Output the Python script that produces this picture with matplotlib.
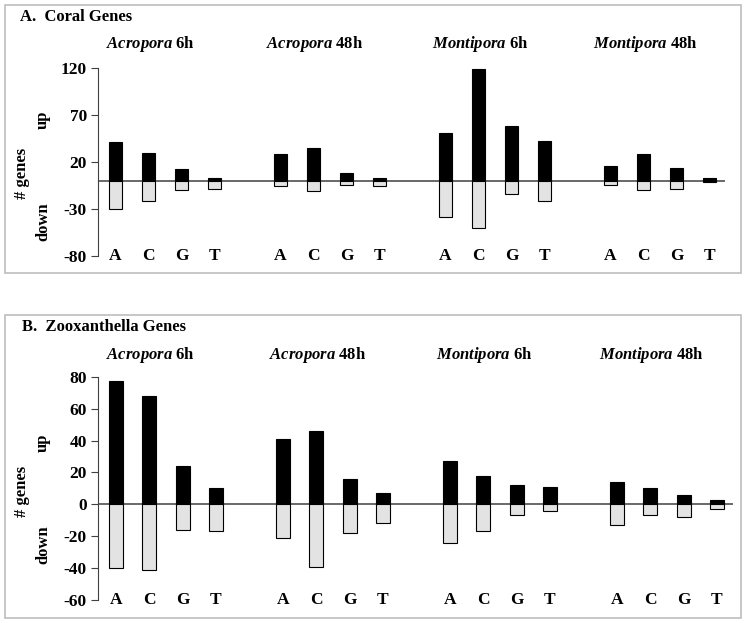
import matplotlib.pyplot as plt
from matplotlib.patches import Rectangle

groups = ['Acropora 6h', 'Acropora 48h', 'Montipora 6h', 'Montipora 48h']
bases = ['A', 'C', 'G', 'T']

# panel A - coral genes (up / down per base, per group)
coral_up = [[41, 30, 13, 3], [28, 35, 8, 3], [51, 119, 58, 42], [16, 28, 14, 3]]
coral_down = [[-30, -21, -10, -9], [-6, -11, -4, -6], [-38, -50, -14, -21], [-4, -10, -9, -1]]
coral_ticks = [120, 70, 20, -30, -80]

# panel B - zooxanthella genes
zoox_up = [[77, 68, 24, 10], [41, 46, 16, 7], [27, 18, 12, 11], [14, 10, 6, 3]]
zoox_down = [[-40, -41, -16, -17], [-21, -39, -18, -12], [-24, -17, -7, -4], [-13, -7, -8, -3]]
zoox_ticks = [80, 60, 40, 20, 0, -20, -40, -60]

plt.rcParams['font.family'] = 'Liberation Serif'
plt.rcParams['font.weight'] = 'bold'
plt.rcParams['axes.unicode_minus'] = False
plt.rcParams['mathtext.fontset'] = 'custom'
plt.rcParams['mathtext.it'] = 'Liberation Serif:italic:bold'
plt.rcParams['mathtext.rm'] = 'Liberation Serif:bold'

fig = plt.figure(figsize=(7.47, 6.23), dpi=100)

# panel frames
for y0, h in [(0.5623, 0.4297), (0.0085, 0.4859)]:
    fig.patches.append(Rectangle((0.0067, y0), 0.9853, h, transform=fig.transFigure,
                                 fill=False, edgecolor='#bdbdbd', lw=1.2))


def panel(ax, up, down, ticks, label_y):
    for g in range(len(groups)):
        xs = [g * 5 + i for i in range(len(bases))]
        ax.bar(xs, up[g], width=0.42, color='black', edgecolor='black', lw=0.8, zorder=3)
        ax.bar(xs, down[g], width=0.42, color='#e3e3e3', edgecolor='black', lw=0.8, zorder=3)
        for x, b in zip(xs, bases):
            ax.text(x, ticks[-1], b, ha='center', va='center', fontsize=12.5, clip_on=False)
        sp, tm = groups[g].split()
        ax.text(g * 5 + 1.05, label_y, r'$\mathit{%s}$ %s' % (sp, tm), ha='center',
                va='center', fontsize=12, clip_on=False)
    ax.axhline(0, color='#404040', lw=1.1, zorder=2)
    ax.set_xlim(-0.53, 18.47)
    ax.set_ylim(ticks[-1], ticks[0])
    ax.set_yticks(ticks)
    ax.set_xticks([])
    for s in ['top', 'right', 'bottom']:
        ax.spines[s].set_visible(False)
    ax.spines['left'].set_color('#404040')
    ax.tick_params(axis='y', labelsize=12.5, length=5, color='#404040', pad=3)
    ax.patch.set_alpha(0)


axA = fig.add_axes([98 / 747, 1 - 256 / 623, 627 / 747, 188 / 623])
panel(axA, coral_up, coral_down, coral_ticks, 145)
axB = fig.add_axes([98 / 747, 1 - 600 / 623, 634.7 / 747, 223.3 / 623])
panel(axB, zoox_up, zoox_down, zoox_ticks, 93.7)

# panel titles and y labels
fig.text(20 / 747, 1 - 17 / 623, 'A.  Coral Genes', fontsize=12, va='center')
fig.text(22 / 747, 1 - 327 / 623, 'B.  Zooxanthella Genes', fontsize=12, va='center')
for yc, yu, yd in [(173, 120, 222), (491.7, 443, 545)]:
    fig.text(22 / 747, 1 - yc / 623, '# genes', rotation=90, ha='center', va='center', fontsize=12)
    fig.text(43 / 747, 1 - yu / 623, 'up', rotation=90, ha='center', va='center', fontsize=12)
    fig.text(43 / 747, 1 - yd / 623, 'down', rotation=90, ha='center', va='center', fontsize=12)

fig.savefig('out.png', dpi=100)
